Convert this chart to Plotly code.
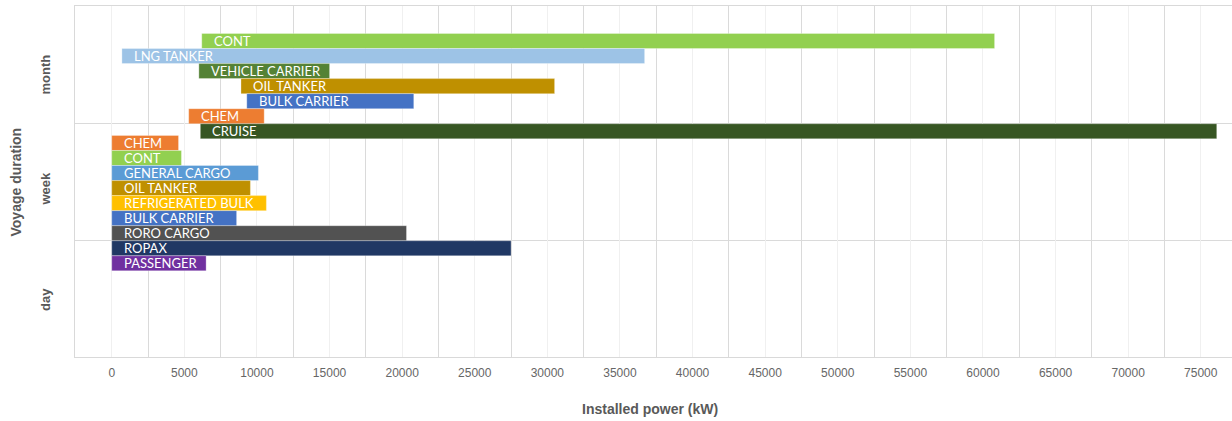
import plotly.graph_objects as go

# Voyage duration classes, top to bottom
durations = ["month", "week", "day"]

# Ship types per duration class with installed power range (kW)
month_types = ["CONT", "LNG TANKER", "VEHICLE CARRIER", "OIL TANKER",
               "BULK CARRIER", "CHEM", "CRUISE"]
month_start = [6200, 700, 6000, 8900, 9300, 5300, 6100]
month_end = [60800, 36700, 15000, 30500, 20800, 10500, 76100]

week_types = ["CHEM", "CONT", "GENERAL CARGO", "OIL TANKER", "REFRIGERATED BULK",
              "BULK CARRIER", "RORO CARGO", "ROPAX", "PASSENGER"]
week_start = [0, 0, 0, 0, 0, 0, 0, 0, 0]
week_end = [4600, 4800, 10100, 9550, 10650, 8600, 20300, 27500, 6500]

day_types = []
day_start = []
day_end = []

x_ticks = list(range(0, 80000, 5000))

TYPE_COLORS = {
    "CONT": "#92D050",
    "LNG TANKER": "#9DC3E6",
    "VEHICLE CARRIER": "#548235",
    "OIL TANKER": "#BF9000",
    "BULK CARRIER": "#4472C4",
    "CHEM": "#ED7D31",
    "CRUISE": "#375623",
    "GENERAL CARGO": "#5B9BD5",
    "REFRIGERATED BULK": "#FFC000",
    "RORO CARGO": "#525252",
    "ROPAX": "#203864",
    "PASSENGER": "#7030A0",
}

ROW = 0.1286      # bar thickness / row pitch in band units
SHIFT = 0.185     # downward shift of each group of bars inside its band

groups = [
    (month_types, month_start, month_end),
    (week_types, week_start, week_end),
    (day_types, day_start, day_end),
]

n_bands = len(durations)
band_pos = {d: n_bands - 1 - i for i, d in enumerate(durations)}

ys, bases, lengths, colors, names = [], [], [], [], []
for dur, (types, starts, ends) in zip(durations, groups):
    n = len(types)
    centre = band_pos[dur] - SHIFT
    for i, (t, s, e) in enumerate(zip(types, starts, ends)):
        ys.append(centre - (i - (n - 1) / 2) * ROW)
        bases.append(s)
        lengths.append(e - s)
        colors.append(TYPE_COLORS[t])
        names.append(t)

fig = go.Figure()
fig.add_trace(go.Bar(
    orientation="h",
    y=ys,
    x=lengths,
    base=bases,
    width=ROW,
    marker=dict(color=colors, line=dict(color="rgba(255,255,255,0.3)", width=1)),
    hoverinfo="skip",
    showlegend=False,
))

annotations = []
for y, b, name in zip(ys, bases, names):
    annotations.append(dict(
        x=b, y=y, xref="x", yref="y", text=name, showarrow=False,
        xanchor="left", yanchor="middle", xshift=10,
        font=dict(family="Lato", size=13, color="white"),
    ))

# duration labels on the left
for d in durations:
    annotations.append(dict(
        x=0, y=band_pos[d], xref="paper", yref="y", text=f"<b>{d}</b>", showarrow=False,
        textangle=-90, xanchor="center", yanchor="top", xshift=-30, yshift=12,
        font=dict(family="Liberation Sans", size=13, color="#595959"),
    ))

annotations.append(dict(
    x=0, y=(n_bands - 1) / 2, xref="paper", yref="y", text="<b>Voyage duration</b>",
    showarrow=False, textangle=-90, xanchor="center", yanchor="middle", xshift=-60,
    yshift=-1,
    font=dict(family="Liberation Sans", size=14, color="#595959"),
))

# x-axis title
annotations.append(dict(
    x=0.5, y=0, xref="paper", yref="paper", text="<b>Installed power (kW)</b>",
    showarrow=False, xanchor="center", yanchor="middle", xshift=-4, yshift=-52,
    font=dict(family="Liberation Sans", size=14, color="#595959"),
))

fig.update_layout(
    width=1232, height=421,
    margin=dict(l=75, r=0, t=6, b=64),
    paper_bgcolor="white", plot_bgcolor="white",
    annotations=annotations,
    xaxis=dict(
        range=[-2530, 77150],
        tickvals=x_ticks,
        ticktext=[str(v) for v in x_ticks],
        showgrid=True, gridcolor="#f0f0f0", gridwidth=1,
        minor=dict(tick0=2500, dtick=5000, showgrid=True, gridcolor="#dadada", gridwidth=1),
        zeroline=False,
        showline=True, linecolor="#d9d9d9", linewidth=1, mirror=True,
        ticks="", ticklen=0, ticklabelstandoff=5,
        tickfont=dict(family="Liberation Sans", size=12, color="#666666"),
    ),
    yaxis=dict(
        range=[-0.5, n_bands - 0.5],
        tickvals=[],
        showgrid=False,
        minor=dict(tickvals=[0.5, 1.5], showgrid=True, gridcolor="#dadada", gridwidth=1),
        zeroline=False,
        showline=True, linecolor="#d9d9d9", linewidth=1,
    ),
)

fig.write_html("out.html")
